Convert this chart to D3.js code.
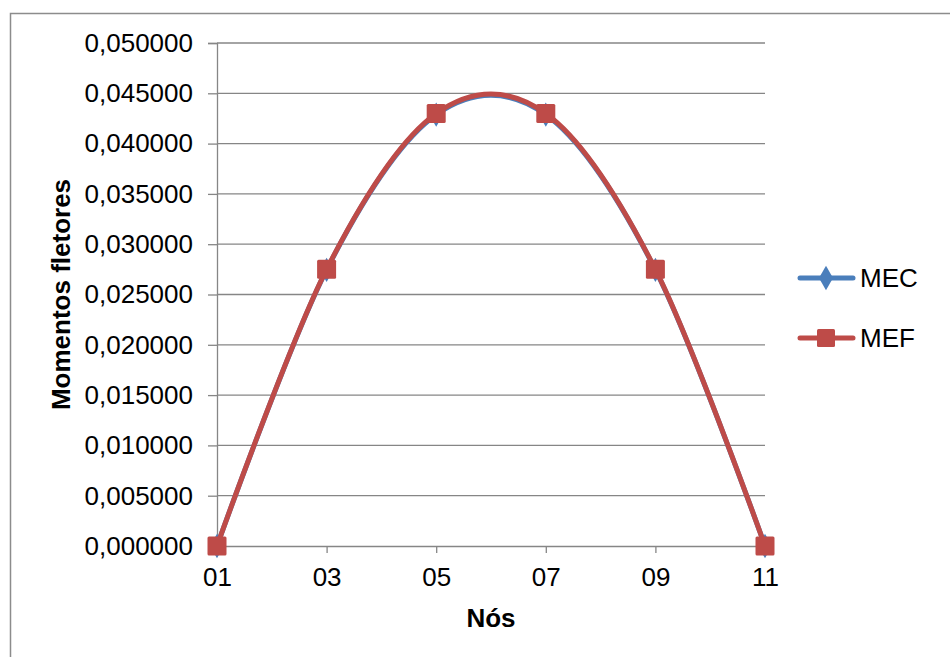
<!DOCTYPE html>
<html>
<head>
<meta charset="utf-8">
<script src="https://cdn.jsdelivr.net/npm/d3@7"></script>
<style>
  html, body { margin: 0; padding: 0; background: #fff; }
  svg { display: block; font-family: "Liberation Sans", Arial, sans-serif; }
</style>
</head>
<body>
<svg id="chart" width="950" height="657"></svg>
<script>
const categories = ["01", "03", "05", "07", "09", "11"];
const mecValues = [0, 0.02745, 0.04288, 0.04288, 0.02745, 0];
const mefValues = [0, 0.0275, 0.0430, 0.0430, 0.0275, 0];
const yTicks = [0, 0.005, 0.01, 0.015, 0.02, 0.025, 0.03, 0.035, 0.04, 0.045, 0.05];
const seriesNames = ["MEC", "MEF"];
const colors = { MEC: "#4A7EBB", MEF: "#BE4B48" };

const svg = d3.select("#chart");
const plot = { left: 217, right: 765, top: 43, bottom: 546 };
const gridColor = "#868686";

// outer chart border (extends beyond viewport right and bottom)
svg.append("rect")
  .attr("x", 10.5).attr("y", 13.5)
  .attr("width", 1000).attr("height", 1000)
  .attr("fill", "none").attr("stroke", "#8c8c8c").attr("stroke-width", 1.5);

const x = d3.scalePoint().domain(categories).range([plot.left, plot.right]).padding(0);
const y = d3.scaleLinear().domain([0, 0.05]).range([plot.bottom, plot.top]);

// gridlines
svg.append("g").selectAll("line").data(yTicks.filter(d => d > 0)).join("line")
  .attr("x1", plot.left).attr("x2", plot.right)
  .attr("y1", d => y(d)).attr("y2", d => y(d))
  .attr("stroke", gridColor).attr("stroke-width", 1.3);

// y axis
const yAxis = d3.axisLeft(y).tickValues(yTicks).tickSize(9).tickPadding(15)
  .tickFormat(d => d3.format(".6f")(d).replace(".", ","));
const gy = svg.append("g").attr("transform", `translate(${plot.left},0)`).call(yAxis);
gy.select(".domain").attr("stroke", gridColor).attr("stroke-width", 1.3);
gy.selectAll(".tick line").attr("stroke", gridColor).attr("stroke-width", 1.3);
gy.selectAll(".tick text").attr("fill", "#000").style("font-size", "26px")
  .style("font-family", '"Liberation Sans", Arial, sans-serif');

// x axis
const xAxis = d3.axisBottom(x).tickSize(7).tickPadding(15);
const gx = svg.append("g").attr("transform", `translate(0,${plot.bottom})`).call(xAxis);
gx.select(".domain").attr("stroke", gridColor).attr("stroke-width", 1.3);
gx.selectAll(".tick line").attr("stroke", gridColor).attr("stroke-width", 1.3);
gx.selectAll(".tick text").attr("fill", "#000").style("font-size", "26px")
  .style("font-family", '"Liberation Sans", Arial, sans-serif');

// axis titles
svg.append("text")
  .attr("x", (plot.left + plot.right) / 2).attr("y", 627)
  .attr("text-anchor", "middle").attr("font-weight", "bold").attr("font-size", 26)
  .text("Nós");
svg.append("text")
  .attr("transform", `translate(70,${(plot.top + plot.bottom) / 2}) rotate(-90)`)
  .attr("text-anchor", "middle").attr("font-weight", "bold").attr("font-size", 26)
  .text("Momentos fletores");

const line = d3.line().x((d, i) => x(categories[i])).y(d => y(d)).curve(d3.curveCatmullRom.alpha(0));

// MEC series
svg.append("path").datum(mecValues).attr("d", line)
  .attr("fill", "none").attr("stroke", colors.MEC).attr("stroke-width", 5)
  .attr("stroke-linecap", "round").attr("stroke-linejoin", "round");
const diamond = d3.symbol().type(d3.symbolDiamond).size(170);
svg.append("g").selectAll("path").data(mecValues).join("path")
  .attr("d", diamond)
  .attr("transform", (d, i) => `translate(${x(categories[i])},${y(d)})`)
  .attr("fill", colors.MEC);

// MEF series
svg.append("path").datum(mefValues).attr("d", line)
  .attr("fill", "none").attr("stroke", colors.MEF).attr("stroke-width", 5)
  .attr("stroke-linecap", "round").attr("stroke-linejoin", "round");
const sq = 19;
svg.append("g").selectAll("rect").data(mefValues).join("rect")
  .attr("x", (d, i) => x(categories[i]) - sq / 2).attr("y", d => y(d) - sq / 2)
  .attr("width", sq).attr("height", sq).attr("rx", 1.5)
  .attr("fill", colors.MEF);

// legend
const legendY = { MEC: 278, MEF: 338 };
seriesNames.forEach(name => {
  const g = svg.append("g").attr("transform", `translate(0,${legendY[name]})`);
  g.append("line").attr("x1", 800).attr("x2", 853).attr("y1", 0).attr("y2", 0)
    .attr("stroke", colors[name]).attr("stroke-width", 5).attr("stroke-linecap", "round");
  if (name === "MEC") {
    g.append("path").attr("d", diamond).attr("transform", "translate(826,0)").attr("fill", colors[name]);
  } else {
    g.append("rect").attr("x", 826 - 9).attr("y", -9).attr("width", 18).attr("height", 18)
      .attr("rx", 1.5).attr("fill", colors[name]);
  }
  g.append("text").attr("x", 860).attr("y", 0).attr("dy", "0.35em")
    .attr("font-size", 26).attr("fill", "#000").text(name);
});
</script>
</body>
</html>
